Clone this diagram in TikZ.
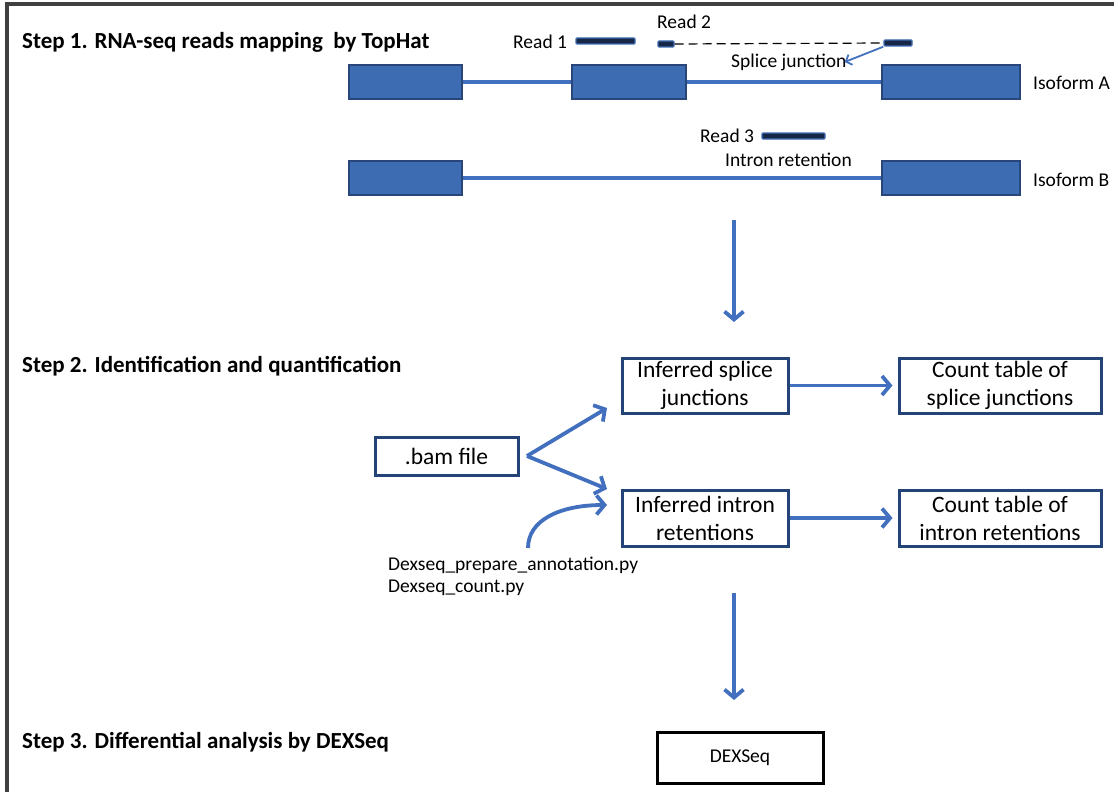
\documentclass[tikz,border=0pt]{standalone}
\usepackage{fontspec}
\setmainfont{Carlito}
\usetikzlibrary{arrows.meta}
\definecolor{exonfill}{RGB}{62,108,178}
\definecolor{exonedge}{RGB}{40,70,122}
\definecolor{flow}{RGB}{66,112,190}
\definecolor{boxedge}{RGB}{36,68,120}
\definecolor{navy}{RGB}{22,38,70}
\definecolor{frame}{RGB}{64,64,64}
\tikzset{
  exon/.style={draw=exonedge, fill=exonfill, line width=2.2pt, inner sep=0pt, minimum height=34pt},
  intron/.style={draw=flow, line width=3.4pt},
  readbar/.style={draw=exonfill, fill=navy, line width=1.4pt, inner sep=0pt, minimum height=6pt, rounded corners=1pt},
  lbl/.style={font=\fontsize{19.5}{23}\selectfont, inner sep=0pt, anchor=west},
  head/.style={font=\fontsize{23}{27}\selectfont\bfseries, inner sep=0pt, anchor=west},
  flowbox/.style={draw=boxedge, line width=3pt, inner sep=0pt, align=center, font=\fontsize{23.5}{28}\selectfont},
  flowarrow/.style={draw=flow, line width=3.8pt, -{Straight Barb[length=8pt,width=19pt,line width=3.8pt]}},
}
\begin{document}
\begin{tikzpicture}[x=1pt,y=-1pt]
\useasboundingbox (0,0) rectangle (1114,792);
% frame
\draw[frame, line width=3.5pt] (7,792) -- (7,4) -- (1114,4);
% headings
\node[head] (h1) at (22,42) {Step 1. RNA-seq reads mapping\ \ by TopHat};
\node[head] (h2) at (22,366) {Step 2. Identification and quantification};
\node[head] (h3) at (22,742) {Step 3. Differential analysis by DEXSeq};
% isoform A
\node[exon, minimum width=113pt] (a1) at (405.5,82) {};
\node[exon, minimum width=114pt] (a2) at (629,82) {};
\node[exon, minimum width=138pt] (a3) at (951,82) {};
\draw[intron] (a1.east) -- (a2.west);
\draw[intron] (a2.east) -- (a3.west);
\node[lbl] (isoA) at (1033,83) {Isoform A};
% isoform B
\node[exon, minimum width=113pt] (b1) at (405.5,178) {};
\node[exon, minimum width=138pt] (b2) at (951,178) {};
\draw[intron] (b1.east) -- (b2.west);
\node[lbl] (isoB) at (1033,180) {Isoform B};
% reads
\node[lbl] (r1l) at (513,42) {Read 1};
\node[readbar, minimum width=59pt] (r1) at (605.5,41) {};
\node[lbl] (r2l) at (657,22) {Read 2};
\node[readbar, minimum width=16pt] (r2a) at (666,44) {};
\node[readbar, minimum width=28pt] (r2b) at (898,43) {};
\draw[black, line width=1.2pt, dash pattern=on 9pt off 5pt] (r2a.east) -- (r2b.west);
\node[lbl] (sj) at (731,62) {Splice junction};
\draw[flow, line width=1.8pt, -{Straight Barb[length=5pt,width=11pt,line width=1.8pt]}] (r2b.south west) -- ([xshift=-2pt]sj.east);
\node[lbl] (r3l) at (700,136) {Read 3};
\node[readbar, minimum width=63pt] (r3) at (793.5,136) {};
\node[lbl] (ir) at (725,160) {Intron retention};
% step 2 boxes
\node[flowbox, minimum width=166pt, minimum height=55pt] (isj) at (705,385.5) {Inferred splice\\junctions};
\node[flowbox, minimum width=202pt, minimum height=55pt] (ctsj) at (1000,385.5) {Count table of\\splice junctions};
\node[flowbox, minimum width=143pt, minimum height=38pt] (bam) at (446.5,456) {.bam file};
\node[flowbox, minimum width=166pt, minimum height=56pt] (iir) at (705,518) {Inferred intron\\retentions};
\node[flowbox, minimum width=202pt, minimum height=56pt] (ctir) at (1000,518) {Count table of\\intron retentions};
\node[draw=black, line width=3pt, inner sep=0pt, minimum width=166pt, minimum height=51pt, font=\fontsize{19.5}{23}\selectfont] (dex) at (740,757.5) {DEXSeq};
\node[lbl] (py1) at (388,565) {Dexseq\_prepare\_annotation.py};
\node[lbl] (py2) at (388,588) {Dexseq\_count.py};
% arrows
\coordinate (d1s) at (734,220);
\coordinate (d1e) at (734,322);
\draw[flowarrow] (d1s) -- (d1e);
\coordinate (split) at (527,456);
\coordinate (isjin) at (607,408);
\coordinate (iirin) at (607,489);
\coordinate (cvs) at (528,548);
\coordinate (cve) at (607,505);
\draw[flowarrow] (split) -- (isjin);
\draw[flowarrow] (split) -- (iirin);
\draw[flowarrow] (cvs) .. controls (528,520) and (560,505) .. (cve);
\draw[flowarrow] (isj.east) -- ([xshift=-5pt]ctsj.west);
\draw[flowarrow] (iir.east) -- ([xshift=-5pt]ctir.west);
\coordinate (d2s) at (734,593);
\coordinate (d2e) at (734,700);
\draw[flowarrow] (d2s) -- (d2e);
\end{tikzpicture}
\end{document}
